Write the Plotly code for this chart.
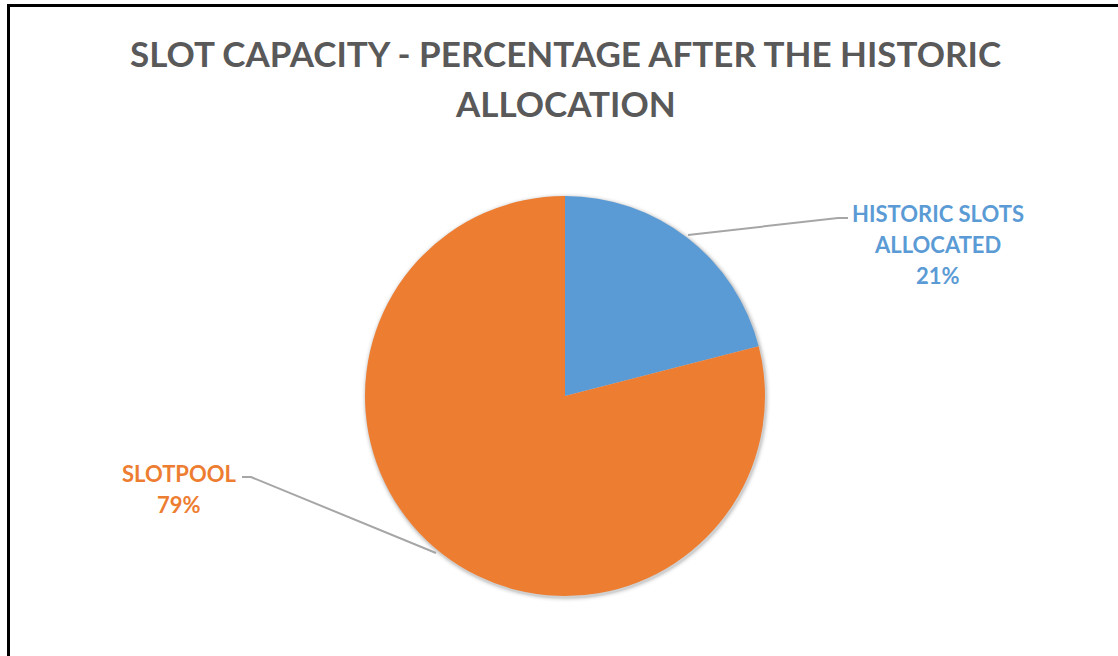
import plotly.graph_objects as go

# Slot capacity split after the historic allocation
labels = ["HISTORIC SLOTS ALLOCATED", "SLOTPOOL"]
values = [21, 79]
colors = ["#5B9BD5", "#ED7D31"]

title_lines = ["SLOT CAPACITY - PERCENTAGE AFTER THE HISTORIC", "ALLOCATION"]
label_lines = [["HISTORIC SLOTS", "ALLOCATED"], ["SLOTPOOL"]]

W, H = 1118, 656
CX, CY, R = 565, 396, 200


def px(x):
    return x / W


def py(y):
    return 1 - y / H


total = sum(values)
pct = [f"{v / total * 100:.0f}%" for v in values]

fig = go.Figure(
    go.Pie(
        labels=labels,
        values=values,
        sort=False,
        direction="clockwise",
        rotation=0,
        marker=dict(colors=colors, line=dict(width=0)),
        textinfo="none",
        hoverinfo="label+percent",
        showlegend=False,
        domain=dict(x=[px(CX - R), px(CX + R)], y=[py(CY + R), py(CY - R)]),
    )
)

shapes = []
# soft shadow around the pie
for i, op in enumerate([0.07, 0.05, 0.035, 0.02, 0.012]):
    rr = R + 1 + i
    shapes.append(dict(
        type="circle", xref="paper", yref="paper", layer="below",
        x0=px(CX - rr + 1), x1=px(CX + rr + 1), y0=py(CY + rr + 1.5), y1=py(CY - rr + 1.5),
        fillcolor=f"rgba(0,0,0,{op})", line=dict(width=0),
    ))

# leader lines
shapes.append(dict(
    type="path", xref="paper", yref="paper",
    path=f"M {px(688)},{py(235)} L {px(838)},{py(218)} L {px(848)},{py(218)}",
    line=dict(color="#A6A6A6", width=2),
))
shapes.append(dict(
    type="path", xref="paper", yref="paper",
    path=f"M {px(242)},{py(477)} L {px(251)},{py(477)} L {px(436)},{py(553)}",
    line=dict(color="#A6A6A6", width=2),
))

# frame border
shapes.append(dict(
    type="path", xref="paper", yref="paper",
    path=f"M {px(8.5)},{py(660)} L {px(8.5)},{py(5.5)} L {px(1122)},{py(5.5)}",
    line=dict(color="#000000", width=3),
))

font_family = "Lato, 'Open Sans', sans-serif"


def text_line(txt, x, y, size, color):
    return dict(
        text=f"<b>{txt}</b>", x=px(x), y=py(y), xref="paper", yref="paper",
        xanchor="center", yanchor="middle", showarrow=False, align="center",
        font=dict(family=font_family, size=size, color=color),
    )


annotations = []
# title
for txt, y in zip(title_lines, [53, 103]):
    annotations.append(text_line(txt, 565, y, 35, "#595959"))
# historic slots label
for txt, y in zip(label_lines[0] + [pct[0]], [213, 244, 276]):
    annotations.append(text_line(txt, 938, y, 22, colors[0]))
# slotpool label
for txt, y in zip(label_lines[1] + [pct[1]], [473, 504]):
    annotations.append(text_line(txt, 179, y, 22, colors[1]))

fig.update_layout(
    width=W, height=H,
    margin=dict(l=0, r=0, t=0, b=0),
    paper_bgcolor="white", plot_bgcolor="white",
    shapes=shapes,
    annotations=annotations,
)

fig.write_html("out.html")
